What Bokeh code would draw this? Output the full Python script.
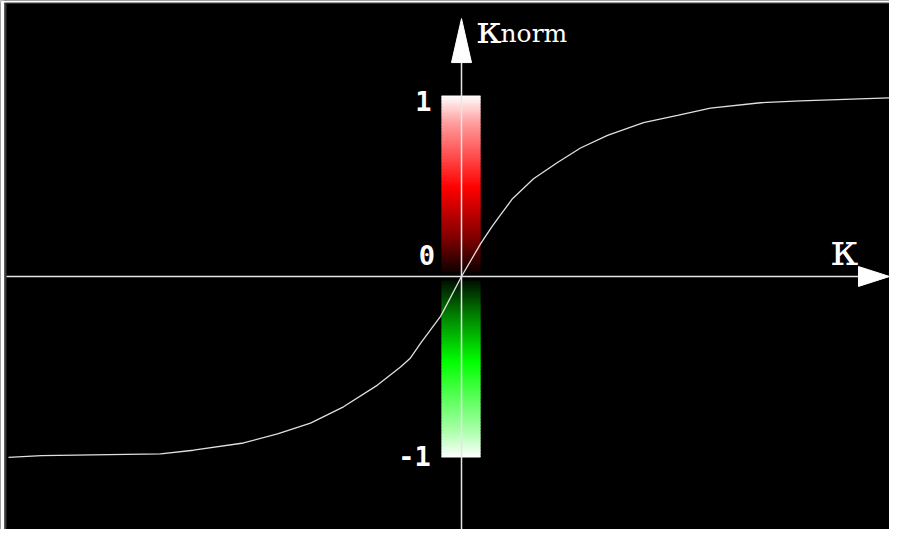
import numpy as np
from bokeh.plotting import figure
from bokeh.models import ColumnDataSource
from bokeh.core.properties import value
from bokeh.embed import file_html
from bokeh.resources import INLINE

# ---- data ----
kappa = [-4.53, -4.20, -3.01, -2.68, -2.18, -1.84, -1.51, -1.18, -0.84, -0.61, -0.51,
         -0.41, -0.21, -0.18, 0.00, 0.19, 0.31, 0.39, 0.51, 0.72, 0.96, 1.19, 1.46,
         1.82, 2.16, 2.49, 2.99, 3.39, 4.44]
k_norm = [-1.00, -0.99, -0.98, -0.96, -0.92, -0.87, -0.81, -0.72, -0.60, -0.50, -0.45,
          -0.37, -0.22, -0.19, 0.00, 0.18, 0.28, 0.34, 0.43, 0.54, 0.63, 0.71, 0.78,
          0.85, 0.89, 0.93, 0.96, 0.97, 0.99]
tick_values = [1, 0, -1]
tick_labels = ["1", "0", "-1"]
x_label = "κ"
y_label_main = "κ"
y_label_sub = "norm"

# red (positive) and green (negative) colour stops: (level, (r, g, b))
red_stops = [(0.0, (15, 0, 0)), (0.2, (130, 0, 0)), (0.48, (255, 0, 0)),
             (0.85, (255, 160, 160)), (1.0, (255, 255, 255))]
green_stops = [(0.0, (0, 15, 0)), (0.2, (0, 130, 0)), (0.46, (0, 255, 0)),
               (0.85, (170, 255, 170)), (1.0, (255, 255, 255))]

X0, X1 = -4.61, 4.28
Y0, Y1 = -1.398, 1.525

p = figure(width=889, height=529, x_range=(X0, X1), y_range=(Y0, Y1),
           output_backend="svg", toolbar_location=None, min_border=0)
p.background_fill_color = "black"
p.border_fill_color = "black"
p.outline_line_color = None
p.xaxis.visible = False
p.yaxis.visible = False
p.xgrid.visible = False
p.ygrid.visible = False

# thin frame strip at left / top as in the source image
p.quad(left=[X0], right=[X0 + 0.04], bottom=[Y0], top=[Y1], fill_color="white", line_color=None)
p.quad(left=[X0 + 0.04], right=[X0 + 0.06], bottom=[Y0], top=[Y1], fill_color="#3a3a3a", line_color=None)
p.quad(left=[X0], right=[X1], bottom=[Y1 - 0.012], top=[Y1], fill_color="white", line_color=None)
p.quad(left=[X0 + 0.04], right=[X1], bottom=[Y1 - 0.018], top=[Y1 - 0.012], fill_color="#3a3a3a", line_color=None)


def interp_color(stops, t):
    levels = [s[0] for s in stops]
    rgb = []
    for c in range(3):
        rgb.append(int(round(np.interp(t, levels, [s[1][c] for s in stops]))))
    return "#%02x%02x%02x" % tuple(rgb)


# gradient bars
n = 120
bar_l, bar_r = -0.20, 0.19
gap = 0.022
edges = np.linspace(0, 1, n + 1)
step = edges[1] - edges[0]
tops, bottoms, cols = [], [], []
for i in range(n):
    a, b = edges[i], edges[i + 1]
    mid = 0.5 * (a + b)
    lo = gap + a * (1 - gap)
    hi = min(1.0, gap + b * (1 - gap) + step * 0.6)
    tops.append(hi); bottoms.append(lo); cols.append(interp_color(red_stops, mid))
    tops.append(-lo); bottoms.append(-hi); cols.append(interp_color(green_stops, mid))
src_bar = ColumnDataSource(dict(top=tops, bottom=bottoms, color=cols,
                                left=[bar_l] * len(tops), right=[bar_r] * len(tops)))
p.quad(left="left", right="right", top="top", bottom="bottom", source=src_bar,
       fill_color="color", line_color=None)

axis_col = "#e6e6e6"
# y axis line and arrow
p.segment(x0=[0], y0=[Y0], x1=[0], y1=[1.30], line_color=axis_col, line_width=1.5)
p.patch(x=[-0.10, 0.10, 0.0], y=[1.182, 1.182, 1.425], fill_color="white",
        line_color="white", line_width=1)
# x axis line and arrow
p.segment(x0=[X0 + 0.06], y0=[0], x1=[4.0], y1=[0], line_color=axis_col, line_width=1.5)
p.patch(x=[3.97, 3.97, 4.28], y=[0.055, -0.055, 0.0], fill_color="white",
        line_color="white", line_width=1)

# curve
p.line(kappa, k_norm, line_color="#e0e0e0", line_width=1.3)

# tick labels
src_t = ColumnDataSource(dict(x=[-0.38, -0.345, -0.47], y=[0.97, 0.116, -0.99],
                              t=tick_labels))
p.text(x="x", y="y", text="t", source=src_t, text_color="white",
       text_font=value("DejaVu Sans Mono"), text_font_size="27px",
       text_font_style="bold", text_align="center", text_baseline="middle")

# axis labels
p.text(x=[3.83], y=[0.149], text=[x_label], text_color="white",
       text_font=value("DejaVu Serif"), text_font_size="44px",
       text_align="center", text_baseline="middle")
p.text(x=[0.15], y=[1.367], text=[y_label_main], text_color="white",
       text_font=value("DejaVu Serif"), text_font_size="40px",
       text_align="left", text_baseline="alphabetic")
p.text(x=[0.39], y=[1.345], text=[y_label_sub], text_color="white",
       text_font=value("DejaVu Serif"), text_font_size="25px",
       text_align="left", text_baseline="alphabetic")

open("out.html", "w").write(file_html(p, INLINE))
